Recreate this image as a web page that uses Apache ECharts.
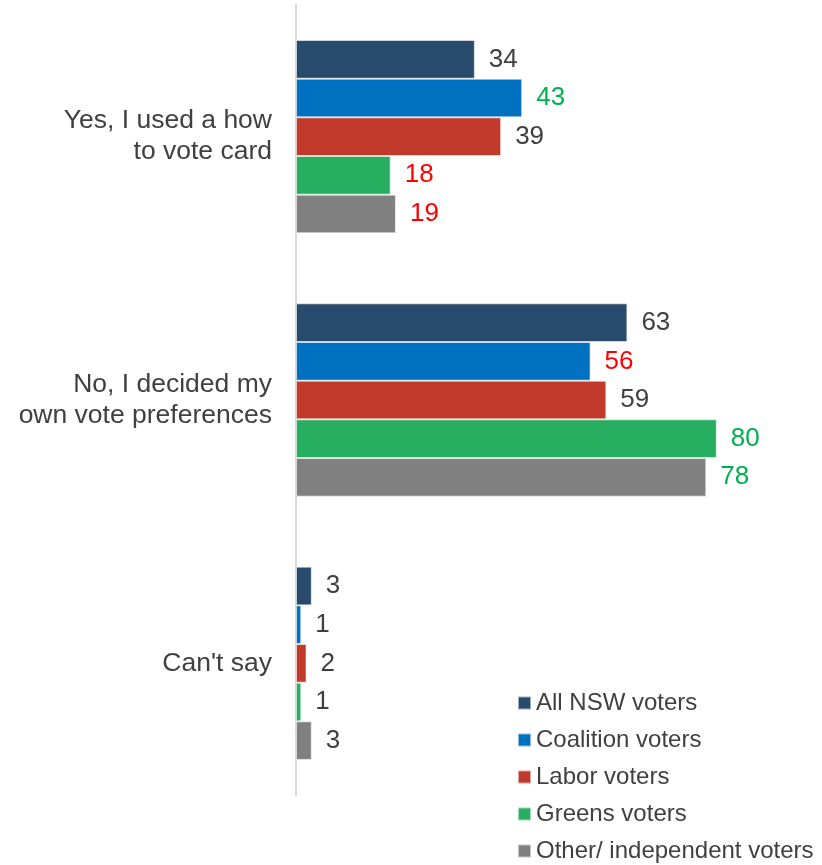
<!DOCTYPE html>
<html>
<head>
<meta charset="utf-8">
<script src="https://cdn.jsdelivr.net/npm/echarts@6/dist/echarts.min.js"></script>
<style>
  html, body { margin: 0; padding: 0; background: #ffffff; }
  #chart { width: 822px; height: 865px; }
</style>
</head>
<body>
<div id="chart"></div>
<script>
// Survey answers (rows) and voter groups (series)
const categories = [
  'Yes, I used a how\nto vote card',
  'No, I decided my\nown vote preferences',
  "Can't say"
];
const seriesNames = [
  'All NSW voters',
  'Coalition voters',
  'Labor voters',
  'Greens voters',
  'Other/ independent voters'
];
const allNsw      = [34, 63, 3];
const coalition   = [43, 56, 1];
const labor       = [39, 59, 2];
const greens      = [18, 80, 1];
const otherIndep  = [19, 78, 3];

// Styling
const FONT = 'Liberation Sans, Arial, sans-serif';
const barColors = ['#284b6d', '#0070c0', '#c0392b', '#27ae60', '#808080'];
const GREY = '#404040', GREEN = '#00b050', RED = '#ff0000';
// Value-label colour per series, per answer (significance highlighting)
const labelColors = [
  [GREY, GREY, GREY],
  [GREEN, RED, GREY],
  [GREY, GREY, GREY],
  [RED, GREEN, GREY],
  [RED, GREEN, GREY]
];

const values = [allNsw, coalition, labor, greens, otherIndep];

const chart = echarts.init(document.getElementById('chart'), null, { renderer: 'canvas' });

const series = seriesNames.map((name, i) => ({
  name: name,
  type: 'bar',
  barGap: '0%',
  barCategoryGap: '26.6%',
  itemStyle: {
    color: barColors[i],
    borderColor: 'rgba(255,255,255,0.55)',
    borderWidth: 1
  },
  label: {
    show: true,
    position: 'right',
    distance: 14,
    fontFamily: FONT,
    fontSize: 26
  },
  data: values[i].map((v, j) => ({
    value: v,
    label: { color: labelColors[i][j] }
  }))
}));

chart.setOption({
  animation: false,
  backgroundColor: '#ffffff',
  textStyle: { fontFamily: FONT },
  grid: { left: 296, right: 0, top: 5, bottom: 70, containLabel: false },
  legend: {
    orient: 'vertical',
    left: 517,
    top: 691,
    height: 200,
    padding: 0,
    itemWidth: 13,
    itemHeight: 13,
    itemGap: 13,
    icon: 'rect',
    textStyle: {
      fontFamily: FONT,
      fontSize: 24,
      color: '#404040'
    },
    data: seriesNames
  },
  xAxis: {
    type: 'value',
    min: 0,
    max: 100,
    show: false
  },
  yAxis: {
    type: 'category',
    inverse: true,
    data: categories,
    axisLine: { show: true, lineStyle: { color: '#d9d9d9', width: 2 } },
    axisTick: { show: false },
    axisLabel: {
      margin: 24,
      fontSize: 26.5,
      lineHeight: 31,
      color: '#404040',
      align: 'right',
      fontFamily: FONT
    }
  },
  series: series
});
</script>
</body>
</html>
